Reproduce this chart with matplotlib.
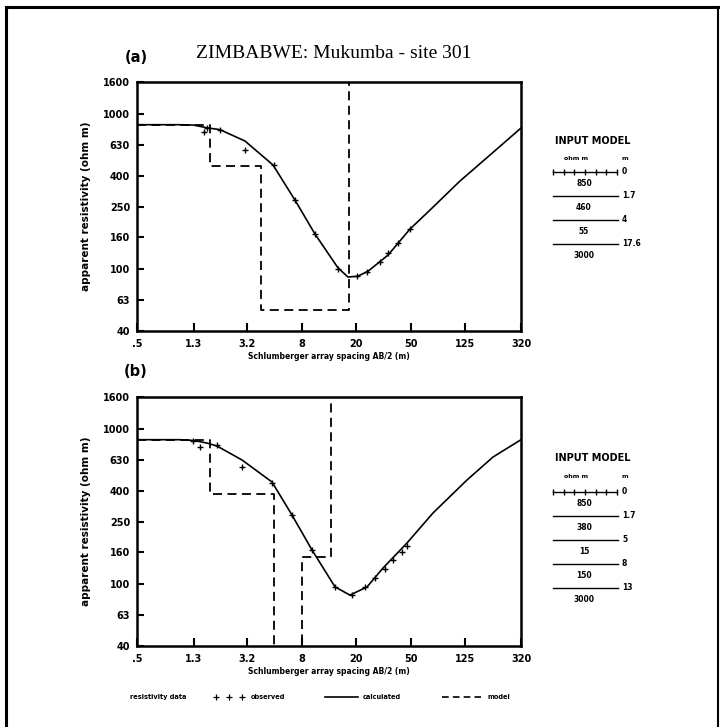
import numpy as np
import matplotlib
matplotlib.use("Agg")
import matplotlib.pyplot as plt
from matplotlib.lines import Line2D

# --- data ---
x_ticks = [0.5, 1.3, 3.2, 8, 20, 50, 125, 320]
x_ticklabels = [".5", "1.3", "3.2", "8", "20", "50", "125", "320"]
y_ticks = [40, 63, 100, 160, 250, 400, 630, 1000, 1600]
y_ticklabels = ["40", "63", "100", "160", "250", "400", "630", "1000", "1600"]

# panel (a)
a_calc_ab2 = [0.5, 1.0, 1.3, 1.62, 2.02, 3.08, 4.93, 7.14, 10.0, 14.7, 17.4, 20.5, 24.4, 34.1, 49.4, 69.2, 114.6, 189.8, 320]
a_calc_rho = [850, 850, 845, 812, 790, 667, 468, 278, 168, 102, 89, 90, 97, 123, 181, 240, 369, 542, 809]
a_obs_ab2 = [1.55, 1.62, 2.02, 3.08, 5.0, 7.1, 10.0, 14.7, 20.3, 24.0, 29.9, 34.1, 40.4, 49.4]
a_obs_rho = [765, 809, 791, 584, 468, 278, 168, 100, 90, 96, 111, 127, 147, 181]
a_model_rho = [850, 460, 55, 3000]
a_model_depth = [1.7, 4, 17.6]
a_model_rho_lbl = ["850", "460", "55", "3000"]
a_model_depth_lbl = ["0", "1.7", "4", "17.6"]

# panel (b)
b_calc_ab2 = [0.5, 1.03, 1.3, 1.62, 1.92, 2.93, 4.85, 6.79, 9.5, 14.0, 18.0, 24.0, 31.4, 47.0, 72.8, 129, 200, 320]
b_calc_rho = [850, 850, 840, 809, 774, 629, 454, 278, 166, 96, 85, 96, 127, 184, 287, 468, 658, 850]
b_obs_ab2 = [1.28, 1.44, 1.92, 2.93, 4.85, 6.79, 9.5, 14.0, 18.6, 23.2, 27.4, 32.4, 37.1, 43.2, 47.0]
b_obs_rho = [833, 762, 785, 567, 448, 278, 166, 96, 85, 96, 109, 126, 142, 160, 177]
b_model_rho = [850, 380, 15, 150, 3000]
b_model_depth = [1.7, 5, 8, 13]
b_model_rho_lbl = ["850", "380", "15", "150", "3000"]
b_model_depth_lbl = ["0", "1.7", "5", "8", "13"]

W = H = 727
BOLD = dict(family="DejaVu Sans", weight="bold")


def fx(x):
    return x / W


def fy(y):
    return 1 - y / H


fig = plt.figure(figsize=(7.27, 7.27), dpi=100)
fig.patch.set_facecolor("white")

# page frame
fig.add_artist(Line2D([fx(6), fx(6)], [fy(7), fy(727)], color="black", lw=2.2))
fig.add_artist(Line2D([fx(6), fx(718)], [fy(7), fy(7)], color="black", lw=2.2))
fig.add_artist(Line2D([fx(718), fx(718)], [fy(7), fy(727)], color="black", lw=1.5))

fig.text(fx(334), fy(53), "ZIMBABWE: Mukumba - site 301", family="Liberation Serif",
         fontsize=14, ha="center", va="center")


def panel(top, letter, calc_x, calc_y, obs_x, obs_y, m_depth, m_rho):
    ax = fig.add_axes([fx(137), fy(top + 249), 384 / W, 249 / H])
    ax.set_xscale("log")
    ax.set_yscale("log")
    ax.set_xlim(0.5, 320)
    ax.set_ylim(40, 1600)
    ax.plot(calc_x, calc_y, color="black", lw=1.2)
    ax.plot(obs_x, obs_y, ls="none", marker="+", ms=5, mew=1.0, color="black")
    ax.step([0.5] + m_depth, m_rho, where="post", color="black", lw=1.3,
            dashes=(5, 3))
    ax.set_xticks(x_ticks)
    ax.set_xticklabels(x_ticklabels)
    ax.set_yticks(y_ticks)
    ax.set_yticklabels(y_ticklabels)
    ax.minorticks_off()
    ax.tick_params(axis="both", direction="in", length=5, width=1.5, labelsize=7)
    ax.tick_params(axis="x", length=6, pad=6)
    ax.tick_params(axis="y", pad=5)
    for lab in ax.get_xticklabels() + ax.get_yticklabels():
        lab.set_fontweight("bold")
    for sp in ax.spines.values():
        sp.set_linewidth(1.8)
    ax.set_xlabel("Schlumberger array spacing AB/2 (m)", fontsize=5.5,
                  fontweight="bold", labelpad=2)
    ax.set_ylabel("apparent resistivity (ohm m)", fontsize=7.5,
                  fontweight="bold", labelpad=9)
    fig.text(fx(136), fy(top - 25), letter, fontsize=10.5, ha="center",
             va="center", **BOLD)
    return ax


def input_model(title_y, line_y, rho_lbl, depth_lbl):
    fig.text(fx(593), fy(title_y), "INPUT MODEL", fontsize=7, ha="center",
             va="center", **BOLD)
    fig.text(fx(576), fy(title_y + 18), "ohm m", fontsize=4.5, ha="center",
             va="center", **BOLD)
    fig.text(fx(622), fy(title_y + 18), "m", fontsize=4.5, ha="left",
             va="center", **BOLD)
    step = 12
    for i, d in enumerate(depth_lbl):
        y = line_y + 2 * step * i
        if i == 0:
            xs = np.linspace(fx(553), fx(617), 7)
            fig.add_artist(Line2D(xs, [fy(y)] * 7, color="black", lw=1.0,
                                  marker="|", ms=4, mew=1.0))
        else:
            fig.add_artist(Line2D([fx(553), fx(618)], [fy(y), fy(y)],
                                  color="black", lw=1.0))
        fig.text(fx(622), fy(y), d, fontsize=5.5, ha="left", va="center", **BOLD)
        fig.text(fx(584), fy(y + step), rho_lbl[i], fontsize=5.5, ha="center",
                 va="center", **BOLD)


panel(82, "(a)", a_calc_ab2, a_calc_rho, a_obs_ab2, a_obs_rho,
      a_model_depth, a_model_rho)
panel(397, "(b)", b_calc_ab2, b_calc_rho, b_obs_ab2, b_obs_rho,
      b_model_depth, b_model_rho)

input_model(141, 172, a_model_rho_lbl, a_model_depth_lbl)
input_model(458, 492, b_model_rho_lbl, b_model_depth_lbl)

# bottom legend row
ly = fy(697)
fig.text(fx(130), ly, "resistivity data", fontsize=4.8, ha="left", va="center", **BOLD)
fig.add_artist(Line2D([fx(216), fx(229), fx(242)], [ly] * 3, ls="none",
                      marker="+", ms=4, mew=0.9, color="black"))
fig.text(fx(251), ly, "observed", fontsize=4.8, ha="left", va="center", **BOLD)
fig.add_artist(Line2D([fx(325), fx(358)], [ly, ly], color="black", lw=1.2))
fig.text(fx(363), ly, "calculated", fontsize=4.8, ha="left", va="center", **BOLD)
fig.add_artist(Line2D([fx(442), fx(481)], [ly, ly], color="black", lw=1.2,
                      dashes=(4, 2.5)))
fig.text(fx(488), ly, "model", fontsize=4.8, ha="left", va="center", **BOLD)

fig.savefig("out.png", dpi=100, facecolor="white")
